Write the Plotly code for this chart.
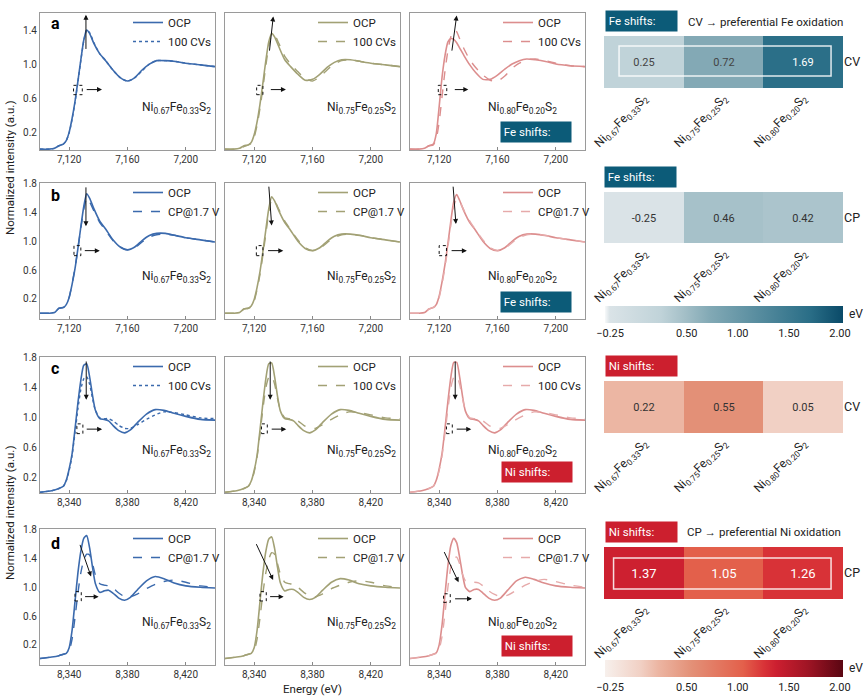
import plotly.graph_objects as go

W, H = 865, 696
def fx(p): return p / W
def fy(p): return 1 - p / H

# ---------------- data ----------------
E_FE = [7100, 7106, 7110, 7113, 7116, 7118, 7120, 7122, 7124, 7126, 7128, 7130, 7132, 7134,
        7137, 7141, 7145, 7150, 7155, 7160, 7165, 7170, 7175, 7180, 7186, 7193, 7200, 7210, 7220]
E_NI = [8320, 8328, 8333, 8336, 8338, 8340, 8342, 8344, 8346, 8348, 8350, 8352, 8354, 8356, 8358,
        8361, 8364, 8367, 8370, 8374, 8378, 8382, 8387, 8393, 8399, 8405, 8412, 8420, 8430, 8440]

# Row a: Fe K-edge, OCP vs 100 CVs
A1_OCP = [0.00, 0.00, 0.01, 0.04, 0.06, 0.10, 0.20, 0.36, 0.56, 0.80, 1.05, 1.28, 1.40, 1.36,
          1.24, 1.12, 1.04, 0.93, 0.84, 0.80, 0.84, 0.93, 1.00, 1.04, 1.04, 1.03, 1.01, 0.99, 0.97]
A1_CV = [0.00, 0.00, 0.01, 0.04, 0.06, 0.10, 0.19, 0.35, 0.55, 0.79, 1.04, 1.27, 1.40, 1.37,
         1.25, 1.12, 1.04, 0.93, 0.84, 0.80, 0.84, 0.92, 1.00, 1.04, 1.04, 1.03, 1.01, 0.99, 0.97]
A2_OCP = [0.00, 0.00, 0.01, 0.04, 0.05, 0.08, 0.17, 0.32, 0.53, 0.78, 1.04, 1.26, 1.36, 1.32,
          1.20, 1.05, 0.97, 0.88, 0.81, 0.82, 0.88, 0.96, 1.02, 1.05, 1.05, 1.03, 1.01, 0.99, 0.97]
A2_CV = [0.00, 0.00, 0.01, 0.03, 0.05, 0.07, 0.14, 0.28, 0.48, 0.72, 0.98, 1.21, 1.34, 1.34,
         1.24, 1.09, 1.00, 0.91, 0.83, 0.80, 0.85, 0.93, 1.00, 1.04, 1.05, 1.03, 1.01, 0.99, 0.97]
A3_OCP = [0.00, 0.00, 0.01, 0.04, 0.06, 0.18, 0.50, 0.85, 1.10, 1.26, 1.30, 1.29, 1.25, 1.19,
          1.10, 0.99, 0.90, 0.82, 0.82, 0.87, 0.94, 1.00, 1.04, 1.06, 1.05, 1.03, 1.00, 0.98, 0.97]
A3_CV = [0.00, 0.00, 0.01, 0.04, 0.05, 0.12, 0.32, 0.62, 0.92, 1.16, 1.32, 1.40, 1.38, 1.30,
         1.18, 1.05, 0.96, 0.87, 0.81, 0.80, 0.86, 0.95, 1.01, 1.05, 1.06, 1.04, 1.01, 0.98, 0.97]

# Row b: Fe K-edge, OCP vs CP@1.7 V
B1_OCP = [0.00, 0.00, 0.01, 0.07, 0.08, 0.12, 0.22, 0.40, 0.62, 0.90, 1.20, 1.48, 1.66, 1.60,
          1.45, 1.28, 1.17, 1.02, 0.92, 0.88, 0.92, 1.01, 1.08, 1.11, 1.11, 1.08, 1.05, 1.02, 0.99]
B1_CP = [0.00, 0.00, 0.01, 0.07, 0.08, 0.12, 0.22, 0.41, 0.63, 0.90, 1.18, 1.44, 1.60, 1.55,
         1.42, 1.26, 1.15, 1.01, 0.92, 0.88, 0.91, 0.99, 1.06, 1.09, 1.10, 1.08, 1.05, 1.02, 0.99]
B2_OCP = [0.00, 0.00, 0.01, 0.06, 0.07, 0.10, 0.19, 0.36, 0.58, 0.86, 1.16, 1.45, 1.62, 1.56,
          1.42, 1.26, 1.15, 1.00, 0.90, 0.87, 0.91, 1.00, 1.07, 1.10, 1.10, 1.08, 1.05, 1.02, 0.99]
B2_CP = [0.00, 0.00, 0.01, 0.06, 0.07, 0.09, 0.17, 0.33, 0.54, 0.81, 1.10, 1.40, 1.58, 1.56,
         1.44, 1.28, 1.16, 1.02, 0.91, 0.87, 0.90, 0.98, 1.05, 1.09, 1.10, 1.08, 1.05, 1.02, 0.99]
B3_OCP = [0.00, 0.00, 0.01, 0.06, 0.08, 0.12, 0.24, 0.44, 0.68, 0.97, 1.28, 1.55, 1.65, 1.57,
          1.42, 1.26, 1.15, 1.00, 0.90, 0.87, 0.91, 1.00, 1.07, 1.10, 1.10, 1.08, 1.05, 1.02, 0.99]
B3_CP = [0.00, 0.00, 0.01, 0.06, 0.08, 0.11, 0.22, 0.41, 0.64, 0.92, 1.22, 1.48, 1.59, 1.55,
         1.43, 1.28, 1.16, 1.02, 0.91, 0.87, 0.90, 0.98, 1.05, 1.09, 1.10, 1.08, 1.05, 1.02, 0.99]

# Row c: Ni K-edge, OCP vs 100 CVs
C1_OCP = [0.01, 0.03, 0.06, 0.09, 0.17, 0.32, 0.52, 0.85, 1.20, 1.50, 1.70, 1.72, 1.55, 1.30, 1.10,
          0.99, 0.98, 0.96, 0.90, 0.83, 0.80, 0.84, 0.94, 1.05, 1.11, 1.10, 1.06, 1.02, 0.98, 0.97]
C1_CV = [0.01, 0.03, 0.06, 0.09, 0.16, 0.30, 0.50, 0.80, 1.12, 1.38, 1.52, 1.55, 1.45, 1.26, 1.10,
         1.00, 0.99, 0.99, 0.96, 0.90, 0.86, 0.86, 0.91, 0.98, 1.04, 1.08, 1.07, 1.04, 1.00, 0.99]
C2_OCP = [0.01, 0.03, 0.06, 0.09, 0.16, 0.30, 0.50, 0.84, 1.20, 1.52, 1.72, 1.73, 1.55, 1.29, 1.09,
          0.99, 0.98, 0.96, 0.90, 0.83, 0.80, 0.84, 0.94, 1.05, 1.11, 1.10, 1.06, 1.02, 0.98, 0.97]
C2_CV = [0.01, 0.03, 0.06, 0.09, 0.15, 0.28, 0.48, 0.79, 1.12, 1.40, 1.54, 1.56, 1.45, 1.26, 1.10,
         1.00, 0.99, 0.99, 0.96, 0.90, 0.86, 0.86, 0.91, 0.98, 1.04, 1.08, 1.07, 1.04, 1.00, 0.99]
C3_OCP = [0.01, 0.03, 0.06, 0.09, 0.17, 0.32, 0.53, 0.86, 1.22, 1.54, 1.74, 1.74, 1.55, 1.29, 1.09,
          0.99, 0.98, 0.96, 0.90, 0.83, 0.80, 0.84, 0.94, 1.05, 1.11, 1.10, 1.06, 1.02, 0.98, 0.97]
C3_CV = [0.01, 0.03, 0.06, 0.09, 0.16, 0.30, 0.50, 0.80, 1.12, 1.40, 1.54, 1.56, 1.45, 1.26, 1.10,
         1.00, 0.99, 0.99, 0.96, 0.90, 0.86, 0.86, 0.91, 0.98, 1.04, 1.08, 1.07, 1.04, 1.00, 0.99]

# Row d: Ni K-edge, OCP vs CP@1.7 V
D1_OCP = [0.01, 0.03, 0.05, 0.07, 0.08, 0.16, 0.40, 0.80, 1.20, 1.50, 1.68, 1.72, 1.55, 1.28, 1.05,
          0.93, 0.95, 0.96, 0.92, 0.85, 0.82, 0.86, 0.97, 1.09, 1.15, 1.12, 1.06, 1.02, 1.00, 0.99]
D1_CP = [0.01, 0.03, 0.05, 0.07, 0.08, 0.12, 0.28, 0.58, 0.92, 1.20, 1.38, 1.46, 1.45, 1.33, 1.17,
         1.05, 1.03, 1.02, 0.99, 0.92, 0.87, 0.87, 0.91, 0.98, 1.04, 1.08, 1.10, 1.07, 1.02, 1.00]
D2_OCP = [0.01, 0.03, 0.05, 0.07, 0.08, 0.16, 0.40, 0.80, 1.20, 1.50, 1.67, 1.70, 1.54, 1.28, 1.06,
          0.95, 0.97, 0.97, 0.93, 0.86, 0.83, 0.86, 0.96, 1.07, 1.12, 1.10, 1.05, 1.02, 1.00, 0.99]
D2_CP = [0.01, 0.03, 0.05, 0.07, 0.08, 0.12, 0.28, 0.58, 0.92, 1.20, 1.39, 1.48, 1.46, 1.33, 1.18,
         1.07, 1.05, 1.04, 1.00, 0.93, 0.88, 0.87, 0.91, 0.98, 1.03, 1.07, 1.09, 1.07, 1.02, 1.00]
D3_OCP = [0.01, 0.03, 0.05, 0.07, 0.09, 0.20, 0.48, 0.90, 1.30, 1.58, 1.68, 1.62, 1.42, 1.18, 1.00,
          0.94, 0.97, 0.97, 0.92, 0.85, 0.82, 0.85, 0.96, 1.09, 1.14, 1.11, 1.06, 1.02, 1.00, 0.99]
D3_CP = [0.01, 0.03, 0.05, 0.07, 0.08, 0.14, 0.32, 0.64, 1.00, 1.28, 1.40, 1.42, 1.33, 1.18, 1.09,
         1.07, 1.07, 1.06, 1.02, 0.95, 0.90, 0.87, 0.89, 0.96, 1.03, 1.08, 1.11, 1.08, 1.03, 1.00]

SAMPLES = ["Ni<sub>0.67</sub>Fe<sub>0.33</sub>S<sub>2</sub>",
           "Ni<sub>0.75</sub>Fe<sub>0.25</sub>S<sub>2</sub>",
           "Ni<sub>0.80</sub>Fe<sub>0.20</sub>S<sub>2</sub>"]

FE_CV_SHIFT = [0.25, 0.72, 1.69]
FE_CP_SHIFT = [-0.25, 0.46, 0.42]
NI_CV_SHIFT = [0.22, 0.55, 0.05]
NI_CP_SHIFT = [1.37, 1.05, 1.26]

FE_TICKS = [7120, 7160, 7200]
NI_TICKS = [8340, 8380, 8420]
CBAR_TICKS = [-0.25, 0.5, 1.0, 1.5, 2.0]
CBAR_TICKTEXT = ["\u22120.25", "0.50", "1.00", "1.50", "2.00"]

# ---------------- styling ----------------
FONT = "Roboto, Liberation Sans, Arial"
COLORS = ["#3b6aad", "#a2a175", "#dc8e8e"]
COLORS_2 = ["#3b6aad", "#a2a175", "#e6aaaa"]
FE_BOX = "#0c5b78"
NI_BOX = "#cc1f2e"

COLS = [(40, 215), (225, 400), (410, 585)]
ROWS = [(13, 150), (183, 319), (357, 493), (529, 665)]
YRANGES = [[-0.01, 1.6], [-0.08, 1.81], [0.0, 1.81], [-0.08, 1.81]]
YTICKS = [[0.2, 0.6, 1.0, 1.4], [0.2, 0.6, 1.0, 1.4, 1.8], [0.2, 0.6, 1.0, 1.4, 1.8], [0.2, 0.6, 1.0, 1.4, 1.8]]

row_defs = [
    dict(E=E_FE, xr=[7100, 7220], ticks=FE_TICKS, name2="100 CVs",
         series=[(A1_OCP, A1_CV), (A2_OCP, A2_CV), (A3_OCP, A3_CV)], dash=["dot", "dash", "dash"]),
    dict(E=E_FE, xr=[7100, 7220], ticks=FE_TICKS, name2="CP@1.7 V",
         series=[(B1_OCP, B1_CP), (B2_OCP, B2_CP), (B3_OCP, B3_CP)], dash=["dash", "dash", "dash"]),
    dict(E=E_NI, xr=[8320, 8440], ticks=NI_TICKS, name2="100 CVs",
         series=[(C1_OCP, C1_CV), (C2_OCP, C2_CV), (C3_OCP, C3_CV)], dash=["dot", "dash", "dash"]),
    dict(E=E_NI, xr=[8320, 8440], ticks=NI_TICKS, name2="CP@1.7 V",
         series=[(D1_OCP, D1_CP), (D2_OCP, D2_CP), (D3_OCP, D3_CP)], dash=["dash", "dash", "dash"]),
]

# arrow/box decorations per panel: (tail, head) arrow, dotted box corners, horizontal arrow
DECOR = [
    [((7131.5, 1.16), (7131.5, 1.58)), ((7123, 0.64), (7129, 0.75)), ((7131, 0.70), (7142.5, 0.70))],
    [((7130.4, 1.14), (7133.1, 1.56)), ((7121.7, 0.64), (7126, 0.75)), ((7130.4, 0.70), (7141.8, 0.70))],
    [((7128.6, 1.14), (7132.0, 1.57)), ((7119.4, 0.64), (7125.2, 0.75)), ((7129.7, 0.70), (7140, 0.70))],
    [((7131.5, 1.77), (7131.5, 1.21)), ((7123.3, 0.80), (7128, 0.94)), ((7129.7, 0.87), (7141, 0.87))],
    [((7130.0, 1.78), (7132.0, 1.22)), ((7121.5, 0.80), (7126, 0.94)), ((7128.5, 0.87), (7140, 0.87))],
    [((7129.5, 1.78), (7131.5, 1.24)), ((7120.0, 0.80), (7125, 0.94)), ((7127.5, 0.87), (7139, 0.87))],
    [((8351.7, 1.77), (8351.7, 1.24)), ((8345.3, 0.79), (8349.4, 0.92)), ((8351, 0.85), (8362.6, 0.85))],
    [((8351.0, 1.77), (8351.0, 1.24)), ((8345.0, 0.79), (8349.0, 0.92)), ((8351, 0.85), (8362.0, 0.85))],
    [((8351.0, 1.77), (8351.0, 1.24)), ((8345.0, 0.79), (8349.0, 0.92)), ((8351, 0.85), (8362.0, 0.85))],
    [((8347.1, 1.61), (8355.0, 1.15)), ((8344.0, 0.81), (8348.3, 0.94)), ((8349.9, 0.87), (8360.2, 0.87))],
    [((8341.0, 1.62), (8353.0, 1.10)), ((8344.0, 0.81), (8348.3, 0.94)), ((8349.9, 0.87), (8360.2, 0.87))],
    [((8343.0, 1.51), (8353.3, 1.07)), ((8343.0, 0.79), (8347.6, 0.91)), ((8349.9, 0.84), (8362.5, 0.84))],
]

fig = go.Figure()
layout = dict(
    width=W, height=H, margin=dict(l=0, r=0, t=0, b=0, autoexpand=False),
    paper_bgcolor="white", plot_bgcolor="white",
    font=dict(family=FONT, size=11, color="#222"),
    showlegend=True,
)
annotations = []
shapes = []

def paper_text(text, px, py, size=11.5, color="#222", xanchor="center", **kw):
    d = dict(text=text, x=fx(px), y=fy(py), xref="paper", yref="paper", xanchor=xanchor, yanchor="middle",
             showarrow=False, font=dict(size=size, color=color))
    d.update(kw)
    return d

k = 0
for r, rd in enumerate(row_defs):
    for c in range(3):
        k += 1
        xa = "x" if k == 1 else f"x{k}"
        ya = "y" if k == 1 else f"y{k}"
        leg = "legend" if k == 1 else f"legend{k}"
        ocp, other = rd["series"][c]
        fig.add_trace(go.Scatter(x=rd["E"], y=ocp, mode="lines", name="OCP", xaxis=xa, yaxis=ya,
                                 legend=leg, line=dict(color=COLORS[c], width=1.6, shape="spline", smoothing=0.6)))
        fig.add_trace(go.Scatter(x=rd["E"], y=other, mode="lines", name=rd["name2"], xaxis=xa, yaxis=ya,
                                 legend=leg, line=dict(color=COLORS_2[c] if r > 0 else COLORS[c], width=1.4,
                                                       dash=rd["dash"][c], shape="spline", smoothing=0.6)))
        c0, c1 = COLS[c]
        r0, r1 = ROWS[r]
        layout[f"xaxis{'' if k == 1 else k}"] = dict(
            domain=[fx(c0), fx(c1)], anchor=ya, range=rd["xr"], tickvals=rd["ticks"], tickformat=",",
            showgrid=False, zeroline=False, showline=True, mirror=True, linecolor="#9a9a9a", linewidth=1,
            ticks="inside", ticklen=3, tickcolor="#888", tickfont=dict(size=10, color="#333"), automargin=False)
        layout[f"yaxis{'' if k == 1 else k}"] = dict(
            domain=[fy(r1), fy(r0)], anchor=xa, range=YRANGES[r], tickvals=YTICKS[r], tickformat=".1f",
            showgrid=False, zeroline=False, showline=True, mirror=True, linecolor="#9a9a9a", linewidth=1,
            ticks="", showticklabels=(c == 0), tickfont=dict(size=10, color="#333"), automargin=False)
        layout[leg] = dict(x=fx(c0 + 88), y=fy(r0 - 5), xanchor="left", yanchor="top",
                           bgcolor="rgba(0,0,0,0)", font=dict(size=11.5, color="#222"),
                           itemwidth=30, tracegroupgap=0)
        # sample label
        annotations.append(dict(text=SAMPLES[c], xref=f"{xa} domain", yref=f"{ya} domain",
                                x=0.99 if c < 2 else 0.85, y=0.31, xanchor="right", yanchor="middle",
                                showarrow=False, font=dict(size=12, color="#222")))
        # decorations
        (t, h), (b0, b1), (ht, hh) = DECOR[k - 1]
        annotations.append(dict(x=h[0], y=h[1], ax=t[0], ay=t[1], xref=xa, yref=ya, axref=xa, ayref=ya,
                                text="", showarrow=True, arrowhead=2, arrowsize=1, arrowwidth=1, arrowcolor="#111"))
        annotations.append(dict(x=hh[0], y=hh[1], ax=ht[0], ay=ht[1], xref=xa, yref=ya, axref=xa, ayref=ya,
                                text="", showarrow=True, arrowhead=2, arrowsize=1, arrowwidth=1, arrowcolor="#111"))
        shapes.append(dict(type="rect", xref=xa, yref=ya, x0=b0[0], y0=b0[1], x1=b1[0], y1=b1[1],
                           line=dict(color="#111", width=1, dash="dot")))

# panel letters
for letter, (px, py) in zip("abcd", [(55, 23), (55, 196), (55, 368), (55, 543)]):
    annotations.append(paper_text(f"<b>{letter}</b>", px, py, size=16, color="#000"))

# axis titles
for py in [168, 513]:
    annotations.append(paper_text("Normalized intensity (a.u.)", 10, py, textangle=-90))
annotations.append(paper_text("Energy (eV)", 312, 689))

# shift boxes inside spectra panels
for text, color, (x0, yc) in [("Fe shifts:", FE_BOX, (500, 132)), ("Fe shifts:", FE_BOX, (500, 302)),
                              ("Ni shifts:", NI_BOX, (501, 472)), ("Ni shifts:", NI_BOX, (501, 646))]:
    annotations.append(paper_text("&nbsp;" + text, x0, yc, color="white", xanchor="left", bgcolor=color,
                                  width=70, height=20, align="left", borderpad=0))

# ---------------- heatmaps ----------------
FE_SCALE = [[0.0, "#f7f9fa"], [0.02, "#dae3e7"], [0.235, "#c0d3d9"], [0.33, "#a5c0c8"],
            [0.44, "#82a9b5"], [0.86, "#2a6e87"], [1.0, "#0a4a68"]]
NI_SCALE = [[0.0, "#f7f0ec"], [0.15, "#f1d0c4"], [0.225, "#ecb5a2"], [0.365, "#e39077"],
            [0.58, "#e3604b"], [0.67, "#d83237"], [0.72, "#cc1f30"], [0.85, "#a01525"], [1.0, "#5a0612"]]
ZMIN, ZMAX = -0.3, 2.03

HM = [
    dict(z=FE_CV_SHIFT, row="CV", ca="coloraxis", top=36, bot=88, tcolor=None, tsize=11),
    dict(z=FE_CP_SHIFT, row="CP", ca="coloraxis", top=192, bot=243, tcolor="#333", tsize=11),
    dict(z=NI_CV_SHIFT, row="CV", ca="coloraxis2", top=381, bot=433, tcolor="#333", tsize=11),
    dict(z=NI_CP_SHIFT, row="CP", ca="coloraxis2", top=547, bot=599, tcolor="white", tsize=13),
]
for i, hm in enumerate(HM):
    k = 13 + i
    tf = dict(size=hm["tsize"], family=FONT)
    if hm["tcolor"]:
        tf["color"] = hm["tcolor"]
    fig.add_trace(go.Heatmap(z=[hm["z"]], x=[0, 1, 2], y=[0], coloraxis=hm["ca"], xaxis=f"x{k}", yaxis=f"y{k}",
                             texttemplate="%{z:.2f}", textfont=tf, showlegend=False, xgap=0, ygap=0))
    layout[f"xaxis{k}"] = dict(domain=[fx(604), fx(843)], anchor=f"y{k}", range=[-0.5, 2.5],
                               tickvals=[0, 1, 2], ticktext=SAMPLES, tickangle=-45, showgrid=False,
                               zeroline=False, showline=False, ticks="", automargin=False,
                               tickfont=dict(size=12, color="#222"))
    layout[f"yaxis{k}"] = dict(domain=[fy(hm["bot"]), fy(hm["top"])], anchor=f"x{k}", range=[-0.5, 0.5],
                               tickvals=[0], ticktext=[hm["row"]], side="right", showgrid=False,
                               zeroline=False, showline=False, ticks="", automargin=False,
                               tickfont=dict(size=12.5, color="#222"))

for name, scale, ytop in [("coloraxis", FE_SCALE, 306), ("coloraxis2", NI_SCALE, 660)]:
    layout[name] = dict(cmin=ZMIN, cmax=ZMAX, colorscale=scale, colorbar=dict(
        orientation="h", x=fx(724), xanchor="center", y=fy(ytop), yanchor="top", len=238 / W,
        lenmode="fraction", thickness=17, xpad=0, ypad=0, outlinewidth=0, ticks="",
        tickvals=CBAR_TICKS, ticktext=CBAR_TICKTEXT, tickfont=dict(size=11, color="#222")))
    annotations.append(paper_text("eV", 847, ytop + 8, size=12, xanchor="left"))

# white outline rectangles in heatmaps a and d
shapes.append(dict(type="rect", xref="x13 domain", yref="y13 domain", x0=0.063, x1=0.95, y0=0.23, y1=0.81,
                   line=dict(color="rgba(255,255,255,0.85)", width=1.5)))
shapes.append(dict(type="rect", xref="x16 domain", yref="y16 domain", x0=0.04, x1=0.95, y0=0.19, y1=0.79,
                   line=dict(color="rgba(255,255,255,0.85)", width=1.5)))

# heatmap title boxes & captions
for text, color, (x0, yc) in [("Fe shifts:", FE_BOX, (605, 21)), ("Fe shifts:", FE_BOX, (604, 177)),
                              ("Ni shifts:", NI_BOX, (605, 366)), ("Ni shifts:", NI_BOX, (605, 532))]:
    annotations.append(paper_text("&nbsp;" + text, x0, yc, color="white", xanchor="left", bgcolor=color,
                                  width=71, height=20, align="left", borderpad=0))
annotations.append(paper_text("CV \u2192 preferential Fe oxidation", 686, 22, xanchor="left"))
annotations.append(paper_text("CP \u2192 preferential Ni oxidation", 685, 532, xanchor="left"))

layout["annotations"] = annotations
layout["shapes"] = shapes
fig.update_layout(**layout)
fig.write_html("out.html", config={"displayModeBar": False},
               post_script="document.body.style.margin='0';document.body.style.padding='0';"
                           "document.documentElement.style.overflow='hidden';")
